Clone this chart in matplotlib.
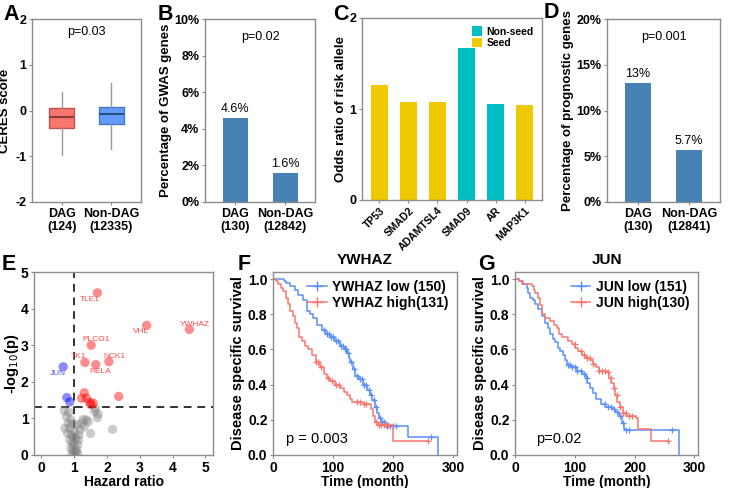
import numpy as np
import matplotlib
matplotlib.use("Agg")
import matplotlib.pyplot as plt
from matplotlib.patches import Patch
from matplotlib.lines import Line2D

plt.rcParams['font.family'] = ['Liberation Sans', 'DejaVu Sans']
plt.rcParams['axes.unicode_minus'] = False

# ---------------- data ----------------
# A: CERES score boxplots (whisker low, q1, median, q3, whisker high)
a_groups = ["DAG\n(124)", "Non-DAG\n(12335)"]
a_stats = [(-0.98, -0.38, -0.15, 0.05, 0.40),
           (-0.85, -0.30, -0.08, 0.07, 0.60)]

# B: GWAS genes
b_groups = ["DAG\n(130)", "Non-DAG\n(12842)"]
b_values = [4.6, 1.6]

# C: odds ratio of risk allele
c_genes = ["TP53", "SMAD2", "ADAMTSL4", "SMAD9", "AR", "MAP3K1"]
c_odds = [1.26, 1.08, 1.08, 1.67, 1.05, 1.04]
c_type = ["Seed", "Seed", "Seed", "Non-seed", "Non-seed", "Seed"]

# D: prognostic genes
d_groups = ["DAG\n(130)", "Non-DAG\n(12841)"]
d_values = [13.0, 5.7]
d_labels = ["13%", "5.7%"]

# E: volcano
red_hr = [1.71, 3.21, 4.51, 1.52, 1.33, 2.06, 1.66, 1.31, 1.23, 1.38, 1.48, 1.58, 1.51, 2.36]
red_lp = [4.43, 3.54, 3.43, 3.00, 2.53, 2.55, 2.47, 1.70, 1.55, 1.55, 1.44, 1.42, 1.38, 1.60]
red_names = ["TLE1", "VHL", "YWHAZ", "PLCG1", "TK1", "NCK1", "RELA"]
red_offsets = [(-0.23, -0.18), (-0.18, -0.16), (0.16, 0.13), (0.14, 0.15),
               (-0.18, 0.15), (0.17, 0.15), (0.14, -0.19)]
blue_hr = [0.67, 0.78, 0.87]
blue_lp = [2.41, 1.57, 1.45]
blue_names = ["JUN"]
blue_offsets = [(-0.17, -0.18)]
gray_hr = [0.70, 0.84, 0.77, 0.90, 0.82, 0.72, 0.87, 0.80, 0.92, 0.87, 0.94, 0.90, 0.97,
           1.02, 1.08, 1.11, 1.13, 1.15, 1.18, 1.23, 1.28, 1.38, 1.31, 1.43, 1.50, 1.63,
           1.71, 2.17, 1.05, 1.01, 1.08, 0.99, 1.05, 0.94, 1.11, 1.65, 1.73, 0.95, 1.00, 0.96]
gray_lp = [1.21, 1.17, 1.05, 0.96, 0.87, 0.73, 0.73, 0.59, 0.55, 0.41, 0.32, 0.18, 0.11,
           0.05, 0.14, 0.28, 0.41, 0.55, 0.69, 0.87, 0.97, 0.96, 0.78, 0.91, 0.59, 1.19,
           1.02, 0.70, 0.46, 0.64, 0.83, 0.23, 0.09, 0.02, 0.04, 1.27, 1.12, 0.85, 0.35, 0.50]

# F: YWHAZ survival (step times / survival after step)
f_low_t = [0, 19, 22, 28, 36, 42, 50, 56, 62, 67, 74, 81, 88, 95, 103, 111, 118, 123, 126,
           128, 133, 137, 143, 150, 156, 161, 165, 169, 173, 176, 180, 188, 224, 275]
f_low_s = [1.0, 0.99, 0.98, 0.96, 0.94, 0.91, 0.88, 0.82, 0.80, 0.78, 0.74, 0.71, 0.69, 0.67,
           0.65, 0.62, 0.60, 0.58, 0.55, 0.53, 0.49, 0.45, 0.43, 0.40, 0.37, 0.34, 0.31, 0.27,
           0.24, 0.21, 0.19, 0.165, 0.105, 0.0]
f_low_cens = [85, 90, 93, 97, 100, 104, 108, 113, 117, 120, 122, 125, 130, 135, 140, 145,
              148, 152, 155, 160, 163, 168, 172, 178, 182, 185, 190, 195, 200, 205, 262]
f_high_t = [0, 5, 8, 13, 17, 22, 25, 29, 33, 36, 40, 44, 48, 53, 58, 65, 72, 78, 84, 89, 95,
            103, 112, 118, 123, 128, 132, 150, 163, 166, 170, 174, 200, 258]
f_high_s = [1.0, 0.99, 0.97, 0.95, 0.93, 0.89, 0.86, 0.82, 0.79, 0.75, 0.72, 0.67, 0.65, 0.62,
            0.60, 0.57, 0.53, 0.50, 0.46, 0.44, 0.42, 0.40, 0.38, 0.36, 0.34, 0.32, 0.30, 0.29,
            0.26, 0.22, 0.19, 0.17, 0.08, 0.08]
f_high_cens = [72, 75, 80, 92, 98, 105, 110, 140, 145, 152, 155, 172, 176, 180, 185, 188, 192, 258]

# G: JUN survival
g_low_t = [0, 6, 12, 20, 22, 25, 30, 34, 39, 45, 50, 55, 59, 63, 67, 72, 76, 80, 84, 87, 93,
           104, 112, 118, 121, 126, 130, 135, 143, 151, 163, 168, 174, 179, 182, 185, 275]
g_low_s = [1.0, 0.99, 0.97, 0.95, 0.92, 0.89, 0.88, 0.86, 0.83, 0.79, 0.75, 0.72, 0.69, 0.66,
           0.64, 0.61, 0.59, 0.57, 0.54, 0.51, 0.50, 0.48, 0.46, 0.44, 0.41, 0.38, 0.35, 0.32,
           0.29, 0.27, 0.26, 0.245, 0.22, 0.18, 0.15, 0.14, 0.0]
g_low_cens = [88, 92, 96, 100, 104, 110, 115, 120, 150, 155, 160, 165, 170, 175, 180, 185, 190, 263]
g_high_t = [0, 6, 14, 28, 32, 34, 39, 42, 45, 50, 58, 66, 70, 74, 78, 88, 95, 101, 106, 112,
            118, 126, 130, 135, 140, 154, 158, 161, 165, 168, 171, 175, 180, 186, 202, 205,
            228, 255]
g_high_s = [1.0, 0.99, 0.97, 0.96, 0.94, 0.92, 0.89, 0.85, 0.80, 0.78, 0.76, 0.74, 0.72, 0.69,
            0.67, 0.65, 0.63, 0.61, 0.59, 0.57, 0.55, 0.54, 0.52, 0.50, 0.48, 0.47, 0.44, 0.41,
            0.38, 0.34, 0.30, 0.27, 0.24, 0.22, 0.21, 0.15, 0.08, 0.08]
g_high_cens = [100, 110, 115, 120, 125, 130, 140, 145, 150, 155, 160, 165, 170, 175, 180,
               185, 190, 195, 255]

# ---------------- styling helpers ----------------
W, H = 729, 488
fig = plt.figure(figsize=(W / 100, H / 100), dpi=100)
SPINE = '#8c8c8c'
BLUE_BAR = '#4682B4'
KM_BLUE = '#5B8FF9'
KM_RED = '#F8766D'


def px_axes(l, t, r, b):
    return fig.add_axes([l / W, 1 - b / H, (r - l) / W, (b - t) / H])


def style(ax, size=9):
    for s in ax.spines.values():
        s.set_color(SPINE)
        s.set_linewidth(1.0)
    ax.tick_params(colors=SPINE, labelcolor='black', length=2.5, width=0.8,
                   labelsize=size, pad=1.5)
    for lab in ax.get_xticklabels() + ax.get_yticklabels():
        lab.set_fontweight('bold')


def panel_letter(x, y, s):
    fig.text(x / W, 1 - y / H, s, fontsize=15.5, fontweight='bold', va='top', ha='left')


# ---------------- A ----------------
ax = px_axes(32, 19, 141, 202)
faces = ['#F8766D', '#619CFF']
edges = ['#B85450', '#4A78C0']
meds = ['#8B3A3A', '#2F4F7F']
stats = []
for (wl, q1, med, q3, wh), lab in zip(a_stats, a_groups):
    stats.append(dict(whislo=wl, q1=q1, med=med, q3=q3, whishi=wh, label=lab, fliers=[]))
bp = ax.bxp(stats, positions=[1, 2], widths=0.5, patch_artist=True, showcaps=False)
for i in range(2):
    bp['boxes'][i].set(facecolor=faces[i], edgecolor=edges[i], linewidth=1.0)
    bp['medians'][i].set(color=meds[i], linewidth=1.5)
for w in bp['whiskers']:
    w.set(color='#9a9a9a', linewidth=1.0)
ax.set_xlim(0.4, 2.6)
ax.set_ylim(-2, 2)
ax.set_yticks([-2, -1, 0, 1, 2])
ax.set_ylabel("CERES score", fontsize=9.5, fontweight='bold', labelpad=3)
ax.text(0.5, 0.93, "p=0.03", transform=ax.transAxes, ha='center', va='center', fontsize=9)
style(ax, 9)
panel_letter(3, 4, "A")

# ---------------- B ----------------
ax = px_axes(205, 19, 315, 202)
xb = np.arange(1, len(b_values) + 1)
ax.bar(xb, b_values, width=0.5, color=BLUE_BAR)
for x, v in zip(xb, b_values):
    ax.text(x, v + 0.15, f"{v}%", ha='center', va='bottom', fontsize=9)
ax.set_xlim(0.4, 2.6)
ax.set_ylim(0, 10)
ax.set_yticks([0, 2, 4, 6, 8, 10])
ax.set_yticklabels([f"{t}%" for t in [0, 2, 4, 6, 8, 10]])
ax.set_xticks(xb)
ax.set_xticklabels(b_groups)
ax.set_ylabel("Percentage of GWAS genes", fontsize=9.5, fontweight='bold', labelpad=2)
ax.text(0.5, 0.9, "p=0.02", transform=ax.transAxes, ha='center', va='center', fontsize=9)
style(ax, 9)
panel_letter(158, 4, "B")

# ---------------- C ----------------
ax = px_axes(362, 18, 542, 200)
col_map = {"Non-seed": '#00BFC4', "Seed": '#EEC900'}
xc = np.arange(1, len(c_genes) + 1)
ax.bar(xc, c_odds, width=0.6, color=[col_map[t] for t in c_type])
ax.set_xlim(0.4, len(c_genes) + 0.6)
ax.set_ylim(0, 2)
ax.set_yticks([0, 1, 2])
ax.set_xticks(xc)
ax.set_xticklabels(c_genes, rotation=45, ha='right', rotation_mode='anchor')
ax.set_ylabel("Odds ratio of risk allele", fontsize=9.5, fontweight='bold', labelpad=2)
style(ax, 9)
for lab in ax.get_xticklabels():
    lab.set_fontsize(7.5)
handles = [Patch(facecolor=col_map[k], edgecolor='none', label=k) for k in ["Non-seed", "Seed"]]
leg = ax.legend(handles=handles, loc='upper right', frameon=False, fontsize=7.5,
                handlelength=1.0, handleheight=1.0, handletextpad=0.4, labelspacing=0.1,
                borderaxespad=0.4)
for t in leg.get_texts():
    t.set_fontweight('bold')
panel_letter(333, 4, "C")

# ---------------- D ----------------
ax = px_axes(607, 19, 720, 202)
xd = np.arange(1, len(d_values) + 1)
ax.bar(xd, d_values, width=0.5, color=BLUE_BAR)
for x, v, s in zip(xd, d_values, d_labels):
    ax.text(x, v + 0.3, s, ha='center', va='bottom', fontsize=9)
ax.set_xlim(0.4, 2.6)
ax.set_ylim(0, 20)
ax.set_yticks([0, 5, 10, 15, 20])
ax.set_yticklabels([f"{t}%" for t in [0, 5, 10, 15, 20]])
ax.set_xticks(xd)
ax.set_xticklabels(d_groups)
ax.set_ylabel("Percentage of prognostic genes", fontsize=9.5, fontweight='bold', labelpad=2)
ax.text(0.5, 0.9, "p=0.001", transform=ax.transAxes, ha='center', va='center', fontsize=9)
style(ax, 9)
panel_letter(544, 2, "D")

# ---------------- E ----------------
ax = px_axes(34, 272, 213, 455)
ax.scatter(gray_hr, gray_lp, s=45, color='#808080', alpha=0.4, edgecolors='none', zorder=2)
ax.scatter(red_hr, red_lp, s=45, color='red', alpha=0.45, edgecolors='none', zorder=3)
ax.scatter(blue_hr, blue_lp, s=45, color='blue', alpha=0.45, edgecolors='none', zorder=3)
for name, x, y, (dx, dy) in zip(red_names, red_hr, red_lp, red_offsets):
    ax.text(x + dx, y + dy, name, color='#FF4D4D', fontsize=6, ha='center', va='center', zorder=4)
for name, x, y, (dx, dy) in zip(blue_names, blue_hr, blue_lp, blue_offsets):
    ax.text(x + dx, y + dy, name, color='#4D4DFF', fontsize=6, ha='center', va='center', zorder=4)
ax.axvline(1, color='#333333', linestyle=(0, (4, 3)), linewidth=1.4, zorder=1)
ax.axhline(-np.log10(0.05), color='#333333', linestyle=(0, (4, 3)), linewidth=1.4, zorder=1)
ax.set_xlim(-0.22, 5.23)
ax.set_ylim(0, 5)
ax.set_xticks(range(6))
ax.set_yticks(range(6))
ax.set_xlabel("Hazard ratio", fontsize=10, fontweight='bold', labelpad=0)
ax.set_ylabel("-log$_{10}$(p)", fontsize=10.5, fontweight='bold', labelpad=0)
style(ax, 10)
panel_letter(2, 254, "E")


# ---------------- F / G ----------------
def surv_at(ts, ss, t):
    i = np.searchsorted(ts, t, side='right') - 1
    return ss[i]


def km_panel(box, title, low, high, low_lab, high_lab, ptext, letter, lx):
    ax = px_axes(*box)
    for (ts, ss, cens), col in zip([low, high], [KM_BLUE, KM_RED]):
        ax.step(ts, ss, where='post', color=col, linewidth=1.1)
        cy = [surv_at(ts, ss, c) for c in cens]
        ax.plot(cens, cy, linestyle='none', marker='+', markersize=5, mew=0.9, color=col)
    ax.set_xlim(0, 306)
    ax.set_ylim(0, 1.04)
    ax.set_xticks([0, 100, 200, 300])
    ax.set_yticks([0, 0.2, 0.4, 0.6, 0.8, 1.0])
    ax.set_yticklabels(["0.0", "0.2", "0.4", "0.6", "0.8", "1.0"])
    ax.set_xlabel("Time (month)", fontsize=10, fontweight='bold', labelpad=0)
    ax.set_ylabel("Disease specific survival", fontsize=10.5, fontweight='bold', labelpad=2)
    ax.text(0.5, 1.03, title, transform=ax.transAxes, ha='center', va='bottom',
            fontsize=11, fontweight='bold')
    ax.text(73, 0.09, ptext, ha='center', va='center', fontsize=10.5)
    hs = [Line2D([], [], color=KM_BLUE, marker='+', markersize=7, mew=1.0, lw=1.1),
          Line2D([], [], color=KM_RED, marker='+', markersize=7, mew=1.0, lw=1.1)]
    leg = ax.legend(hs, [low_lab, high_lab], loc='upper right', frameon=False, fontsize=10,
                    handlelength=1.4, handletextpad=0.4, labelspacing=0.1, borderaxespad=0.2)
    for t in leg.get_texts():
        t.set_fontweight('bold')
    style(ax, 10)
    panel_letter(lx, 254, letter)


km_panel((273, 272, 457, 455), "YWHAZ", (f_low_t, f_low_s, f_low_cens),
         (f_high_t, f_high_s, f_high_cens), "YWHAZ low (150)", "YWHAZ high(131)",
         "p = 0.003", "F", 238)
km_panel((515, 272, 698, 455), "JUN", (g_low_t, g_low_s, g_low_cens),
         (g_high_t, g_high_s, g_high_cens), "JUN low (151)", "JUN high(130)",
         "p=0.02", "G", 478)

fig.savefig("out.png", dpi=100)
